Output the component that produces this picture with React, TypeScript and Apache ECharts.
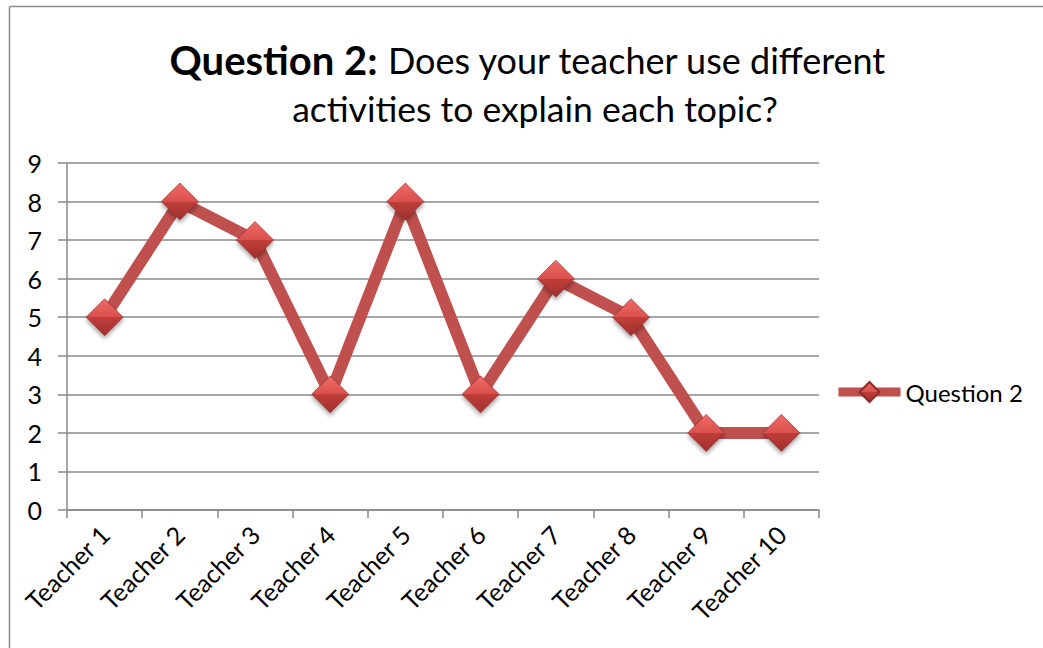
import React, { useEffect, useRef } from "react";
import * as echarts from "echarts";

const categories = ["Teacher 1", "Teacher 2", "Teacher 3", "Teacher 4", "Teacher 5", "Teacher 6", "Teacher 7", "Teacher 8", "Teacher 9", "Teacher 10"];
const values = [5, 8, 7, 3, 8, 3, 6, 5, 2, 2];
const seriesName = "Question 2";
const titleBold = "Question 2:";
const titleRest1 = "Does your teacher use different";
const titleLine2 = "activities to explain each topic?";

const FONT = "Lato, 'Open Sans', sans-serif";
const GRID_COLOR = "#8a8a8a";
const LINE_COLOR = "#c0504d";

export default function App() {
  const ref = useRef<HTMLDivElement>(null);
  useEffect(() => {
    if (!ref.current) return;
    const chart = echarts.init(ref.current, undefined, { renderer: "svg" });
    const diamondFill = new echarts.graphic.LinearGradient(0, 0, 0, 1, [
      { offset: 0, color: "#f06a67" },
      { offset: 0.5, color: "#d9504d" },
      { offset: 0.5, color: "#c03e3b" },
      { offset: 1, color: "#a02f2c" },
    ]);
    chart.setOption({
      animation: false,
      textStyle: { fontFamily: FONT },
      graphic: [
        { type: "line", shape: { x1: 9.5, y1: 6.5, x2: 1043, y2: 6.5 }, style: { stroke: "#8c8c8c", lineWidth: 1.5 } },
        { type: "line", shape: { x1: 9.5, y1: 6.5, x2: 9.5, y2: 648 }, style: { stroke: "#8c8c8c", lineWidth: 1.5 } },
        {
          type: "text",
          x: 528,
          y: 80,
          style: {
            text: "{b|" + titleBold + "} " + titleRest1,
            align: "center",
            verticalAlign: "bottom",
            fontFamily: FONT,
            fontSize: 36,
            fill: "#000",
            rich: { b: { fontFamily: FONT, fontSize: 40, fontWeight: "bold", fill: "#000" } },
          },
        },
        {
          type: "text",
          x: 535,
          y: 126,
          style: { text: titleLine2, align: "center", verticalAlign: "bottom", fontFamily: FONT, fontSize: 35.5, fill: "#000" },
        },
      ],
      grid: { left: 67, top: 163, right: 224, bottom: 138, containLabel: false },
      legend: {
        data: [seriesName],
        left: 834,
        top: 380,
        padding: 0,
        itemWidth: 62,
        itemHeight: 25,
        textStyle: { fontFamily: FONT, fontSize: 24, color: "#000" },
        lineStyle: { width: 9 },
      },
      xAxis: {
        type: "category",
        data: categories,
        boundaryGap: true,
        axisLine: { show: true, lineStyle: { color: GRID_COLOR, width: 1.5 } },
        axisTick: { show: true, length: 8, inside: false, alignWithLabel: false, lineStyle: { color: GRID_COLOR, width: 1.5 } },
        axisLabel: { rotate: 45, margin: 20, fontFamily: FONT, fontSize: 25, color: "#000", interval: 0 },
        splitLine: { show: false },
      },
      yAxis: {
        type: "value",
        min: 0,
        max: 9,
        interval: 1,
        axisLine: { show: true, lineStyle: { color: GRID_COLOR, width: 1.5 } },
        axisTick: { show: true, length: 9, lineStyle: { color: GRID_COLOR, width: 1.5 } },
        axisLabel: { margin: 25, fontFamily: FONT, fontSize: 25, color: "#000" },
        splitLine: { show: true, lineStyle: { color: GRID_COLOR, width: 1.5 } },
      },
      series: [
        {
          name: seriesName,
          type: "line",
          data: values,
          symbol: "diamond",
          symbolSize: 37,
          lineStyle: { color: LINE_COLOR, width: 12 },
          itemStyle: {
            color: diamondFill,
            borderColor: "#8a2926",
            borderWidth: 0.6,
            shadowBlur: 4,
            shadowOffsetY: 3,
            shadowColor: "rgba(0,0,0,0.35)",
          },
          z: 3,
        },
      ],
    });
    return () => chart.dispose();
  }, []);
  return <div ref={ref} style={{ position: "fixed", left: 0, top: 0, width: 1043, height: 648, background: "#fff" }} />;
}
